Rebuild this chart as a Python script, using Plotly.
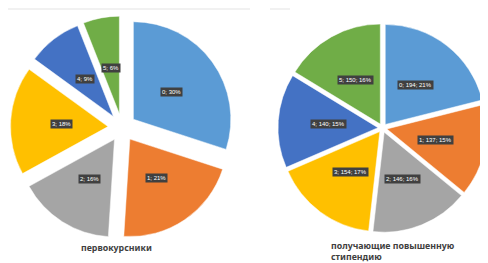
import math
import plotly.graph_objects as go

# page body has an 8px margin: the figure starts at (8, 8) in the window
OFF = 8
W, H = 480, 255

categories = ["0", "1", "2", "3", "4", "5"]
freshmen_pct = [30, 21, 16, 18, 9, 6]
scholarship_counts = [194, 137, 146, 154, 140, 150]
scholarship_pct = [21, 15, 16, 17, 15, 16]
colors = ["#5B9BD5", "#ED7D31", "#A5A5A5", "#FFC000", "#4472C4", "#70AD47"]
title_left = "первокурсники"
title_right = "получающие повышенную<br>стипендию"


def domain_for(cx, cy, r, pull):
    """Pie box (in window px) -> paper domain."""
    half = r * (1 + pull)
    x0 = (cx - OFF - half) / W
    x1 = (cx - OFF + half) / W
    y0 = 1 - (cy - OFF + half) / H
    y1 = 1 - (cy - OFF - half) / H
    return dict(x=[x0, x1], y=[y0, y1])


left_pull = 0.144
right_pull = 0.045
left_dom = domain_for(122, 127.5, 97.5, left_pull)
right_dom = domain_for(382.5, 128, 100, right_pull)

fig = go.Figure()
fig.add_trace(go.Pie(
    labels=categories, values=freshmen_pct, domain=left_dom,
    sort=False, direction="clockwise", rotation=0,
    marker=dict(colors=colors, line=dict(color="white", width=0.5)),
    pull=[left_pull] * 6, textinfo="none", showlegend=False,
))
fig.add_trace(go.Pie(
    labels=categories, values=scholarship_counts, domain=right_dom,
    sort=False, direction="clockwise", rotation=0,
    marker=dict(colors=colors, line=dict(color="white", width=0.5)),
    pull=[right_pull] * 6, textinfo="none", showlegend=False,
))


def label_positions(values, dom, pull, k=0.48):
    bw = (dom["x"][1] - dom["x"][0]) * W
    bh = (dom["y"][1] - dom["y"][0]) * H
    r = min(bw, bh) / (2 + 2 * pull)
    cx = (dom["x"][0] + dom["x"][1]) / 2 * W
    cy = (1 - (dom["y"][0] + dom["y"][1]) / 2) * H
    total = sum(values)
    acc = 0
    out = []
    for v in values:
        mid = (acc + v / 2) / total * 2 * math.pi
        acc += v
        d = r * (pull + k)
        px_ = cx + d * math.sin(mid)
        py_ = cy - d * math.cos(mid)
        out.append((px_ / W, 1 - py_ / H))
    return out


lab_font = dict(family="Liberation Sans", size=6, color="white")
for (x, y), c, p in zip(label_positions(freshmen_pct, left_dom, left_pull),
                        categories, freshmen_pct):
    fig.add_annotation(x=x, y=y, xref="paper", yref="paper",
                       xanchor="center", yanchor="middle",
                       text=f"{c}; {p}%", showarrow=False, font=lab_font,
                       bgcolor="#404040", borderpad=1)
for (x, y), c, n, p in zip(label_positions(scholarship_counts, right_dom, right_pull, 0.5),
                           categories, scholarship_counts, scholarship_pct):
    fig.add_annotation(x=x, y=y, xref="paper", yref="paper",
                       xanchor="center", yanchor="middle",
                       text=f"{c}; {n}; {p}%", showarrow=False, font=lab_font,
                       bgcolor="#404040", borderpad=1)


def px(x):
    return (x - OFF) / W


def py(y):
    return 1 - (y - OFF) / H


title_font = dict(family="Noto Sans", size=8.8, color="#404040", weight="bold")
fig.add_annotation(x=px(80), y=py(248), xref="paper", yref="paper",
                   xanchor="left", yanchor="middle", text=title_left,
                   showarrow=False, font=title_font, borderpad=0)
fig.add_annotation(x=px(330), y=py(251.5), xref="paper", yref="paper",
                   xanchor="left", yanchor="middle", text=title_right, align="left",
                   showarrow=False, font=title_font, borderpad=0)

fig.add_shape(type="line", xref="paper", yref="paper",
              x0=0, x1=px(250), y0=py(9), y1=py(9),
              line=dict(color="#e3e3e3", width=1))
fig.add_shape(type="line", xref="paper", yref="paper",
              x0=px(270), x1=px(290), y0=py(9), y1=py(9),
              line=dict(color="#e3e3e3", width=1))

fig.update_layout(width=W, height=H, margin=dict(l=0, r=0, t=0, b=0),
                  paper_bgcolor="white", plot_bgcolor="white")
fig.write_html("out.html")
